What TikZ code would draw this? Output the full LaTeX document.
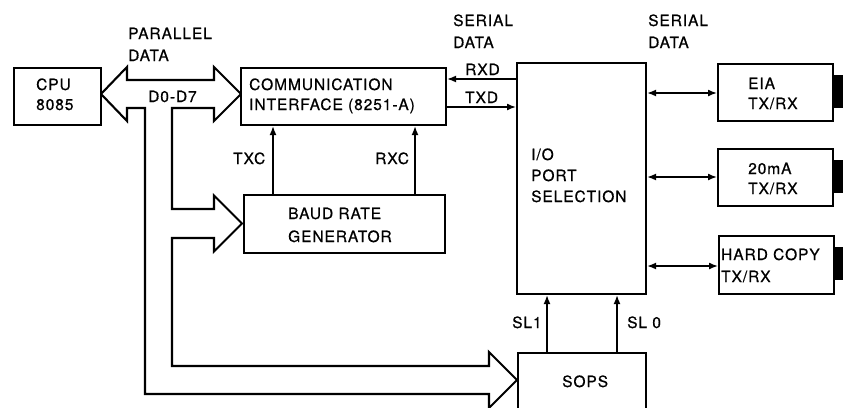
\documentclass[tikz,border=0pt]{standalone}
\usepackage{fontspec}
\setmainfont{TeX Gyre Heros}[LetterSpace=6,FakeBold=0.6]
\usetikzlibrary{arrows.meta}
\begin{document}
\begin{tikzpicture}[x=1pt,y=-1pt,
  box/.style={draw, line width=2.1pt, inner sep=0pt, anchor=north west, fill=white},
  tabbox/.style={fill=black, draw=none, inner sep=0pt, anchor=north west, minimum width=12pt, minimum height=33pt},
  lbl/.style={anchor=base west, inner sep=0pt, font=\fontsize{15.5}{18}\selectfont},
  arr/.style={line width=1.5pt, -{Latex[length=9pt,width=7pt]}},
  darr/.style={line width=1.5pt, {Latex[length=9pt,width=7pt]}-{Latex[length=9pt,width=7pt]}},
  bus/.style={draw, line width=2.1pt, fill=white, line join=miter}]
\useasboundingbox (0,0) rectangle (843,407);
\clip (0,0) rectangle (843,407);

% parallel data bus
\draw[bus] (101,94) -- (127,67) -- (127,80) -- (214,80) -- (214,67) -- (241,94)
  -- (214,121) -- (214,108) -- (172,108) -- (172,209) -- (214,209) -- (214,195.5)
  -- (242,223.5) -- (214,251.5) -- (214,238) -- (172,238) -- (172,366) -- (489,366)
  -- (489,352) -- (517,380) -- (489,408) -- (489,394) -- (145,394) -- (145,108)
  -- (127,108) -- (127,121) -- cycle;

% boxes
\node[box, minimum width=87pt,  minimum height=57pt]  (cpu)   at (13,67)  {};
\node[box, minimum width=205pt, minimum height=57pt]  (iface) at (240,67) {};
\node[box, minimum width=201pt, minimum height=58pt]  (baud)  at (243,194) {};
\node[box, minimum width=129pt, minimum height=231pt] (io)    at (516,62) {};
\node[box, minimum width=128pt, minimum height=80pt]  (sops)  at (517,352) {};
\node[box, minimum width=115pt, minimum height=57pt]  (eia)   at (717,63) {};
\node[box, minimum width=115pt, minimum height=57pt]  (ma)    at (717,148) {};
\node[box, minimum width=115pt, minimum height=58pt]  (hc)    at (718,235) {};
\node[tabbox] (teia) at (833,75)  {};
\node[tabbox] (tma)  at (833,160) {};
\node[tabbox] (thc)  at (834,247) {};

% connectors
\draw[arr] (io.west |- 0,79) -- (iface.east |- 0,79);
\draw[arr] (iface.east |- 0,107) -- (io.west |- 0,107);
\draw[arr] (baud.north -| 273,0) -- (iface.south -| 273,0);
\draw[arr] (baud.north -| 415,0) -- (iface.south -| 415,0);
\draw[arr] (sops.north -| 547,0) -- (io.south -| 547,0);
\draw[arr] (sops.north -| 617,0) -- (io.south -| 617,0);
\draw[darr] (io.east |- 0,93) -- (eia.west |- 0,93);
\draw[darr] (io.east |- 0,177) -- (ma.west |- 0,177);
\draw[darr] (io.east |- 0,266) -- (hc.west |- 0,266);

% texts
\node[lbl] (par1) at (128,39) {PARALLEL};
\node[lbl] (par2) at (128,61) {DATA};
\node[lbl] (ser1) at (453,26) {SERIAL};
\node[lbl] (ser2) at (453,48) {DATA};
\node[lbl] (ser3) at (648,26) {SERIAL};
\node[lbl] (ser4) at (648,48) {DATA};
\node[lbl] (d07)  at (148,102) {D0-D7};
\node[lbl] (cpu1) at (36,90) {CPU};
\node[lbl] (cpu2) at (36,110) {8085};
\node[lbl] (if1)  at (249,90) {COMMUNICATION};
\node[lbl] (if2)  at (249,110) {INTERFACE (8251-A)};
\node[lbl] (rxd)  at (465,75) {RXD};
\node[lbl] (txd)  at (465,103) {TXD};
\node[lbl] (txc)  at (233,164) {TXC};
\node[lbl] (rxc)  at (375,164) {RXC};
\node[lbl] (bd1)  at (288,219) {BAUD RATE};
\node[lbl] (bd2)  at (288,242) {GENERATOR};
\node[lbl] (io1)  at (531,160) {I/O};
\node[lbl] (io2)  at (531,181) {PORT};
\node[lbl] (io3)  at (531,202) {SELECTION};
\node[lbl] (sl1)  at (512,328) {SL1};
\node[lbl] (sl0)  at (627,328) {SL 0};
\node[lbl] (sops1) at (562,387) {SOPS};
\node[lbl] (eia1) at (748,89) {EIA};
\node[lbl] (eia2) at (748,109) {TX/RX};
\node[lbl] (ma1)  at (748,174) {20mA};
\node[lbl] (ma2)  at (748,194) {TX/RX};
\node[lbl] (hc1)  at (721,260) {HARD COPY};
\node[lbl] (hc2)  at (721,282) {TX/RX};
\end{tikzpicture}
\end{document}
